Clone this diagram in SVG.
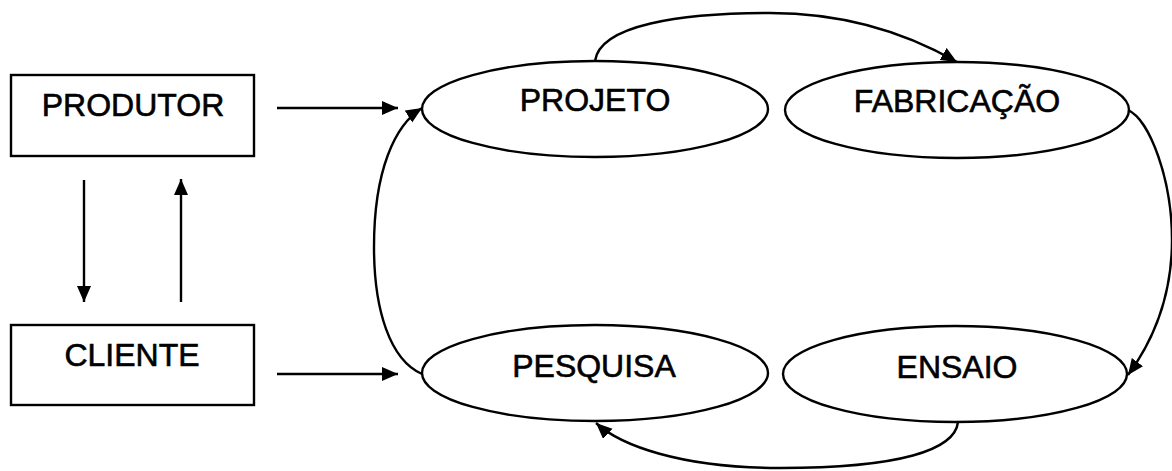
<svg xmlns="http://www.w3.org/2000/svg" width="1172" height="471" viewBox="0 0 1172 471">
  <defs>
    <style>
      .box { fill: #fff; stroke: #000; stroke-width: 2.4; }
      .ell { fill: #fff; stroke: #000; stroke-width: 2.4; }
      .lbl { font-family: "Liberation Sans", Arial, sans-serif; font-size: 32px; fill: #000; stroke: #000; stroke-width: 0.6; text-anchor: middle; }
      .con { fill: none; stroke: #000; stroke-width: 2.4; marker-end: url(#ah); }
    </style>
    <marker id="ah" markerUnits="userSpaceOnUse" markerWidth="18" markerHeight="16" refX="16" refY="7" orient="auto">
      <path d="M0,0 L16,7 L0,14 z" fill="#000"/>
    </marker>
  </defs>
  <rect width="1172" height="471" fill="#fff"/>

  <g id="produtor">
    <rect class="box" x="11" y="75" width="243" height="81"/>
    <text class="lbl" x="133" y="116">PRODUTOR</text>
  </g>
  <g id="cliente">
    <rect class="box" x="11" y="325" width="243" height="80"/>
    <text class="lbl" x="132" y="366">CLIENTE</text>
  </g>
  <g id="projeto">
    <ellipse class="ell" cx="595" cy="109" rx="173" ry="48"/>
    <text class="lbl" x="595" y="111">PROJETO</text>
  </g>
  <g id="fabricacao">
    <ellipse class="ell" cx="957" cy="110" rx="172" ry="48"/>
    <text class="lbl" x="957" y="112">FABRICAÇÃO</text>
  </g>
  <g id="pesquisa">
    <ellipse class="ell" cx="595" cy="373" rx="173" ry="48"/>
    <text class="lbl" x="594" y="377">PESQUISA</text>
  </g>
  <g id="ensaio">
    <ellipse class="ell" cx="955" cy="374" rx="172" ry="48"/>
    <text class="lbl" x="957" y="378">ENSAIO</text>
  </g>

  <g id="connectors">
    <path class="con" d="M277,108 L398,108"/>
    <path class="con" d="M277,374 L398,374"/>
    <path class="con" d="M84,180 L84,302"/>
    <path class="con" d="M181,302 L181,179"/>
    <path class="con" d="M595,61 C600,25 680,13 770,13 C850,13 910,35 957,62"/>
    <path class="con" d="M1128,110 C1150,120 1172,180 1172,240 C1172,300 1150,345 1128,375"/>
    <path class="con" d="M958,422 C955,450 900,468 780,468 C680,468 620,445 596,423"/>
    <path class="con" d="M422,374 C390,360 374,310 374,247 C374,170 395,125 422,108"/>
  </g>
</svg>
